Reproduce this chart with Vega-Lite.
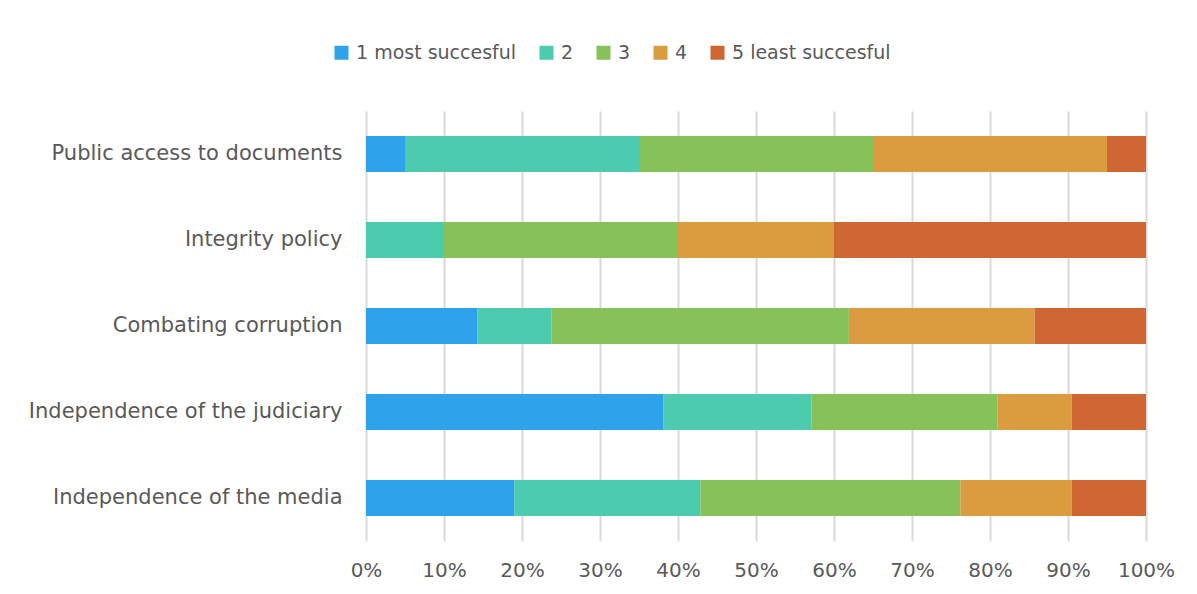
{
  "$schema": "https://vega.github.io/schema/vega-lite/v6.json",
  "width": 780,
  "height": 430,
  "autosize": {"type": "none"},
  "padding": {"left": 366, "top": 111, "right": 51, "bottom": 53},
  "background": "white",
  "config": {
    "font": "DejaVu Sans",
    "view": {"stroke": null},
    "axis": {"labelFont": "DejaVu Sans", "labelColor": "#595959", "labelFontSize": 20, "labelLimit": 400}
  },
  "data": {
    "values": [
      {"topic": "Public access to documents", "rating": "1 most succesful", "rank": 1, "count": 1},
      {"topic": "Public access to documents", "rating": "2", "rank": 2, "count": 6},
      {"topic": "Public access to documents", "rating": "3", "rank": 3, "count": 6},
      {"topic": "Public access to documents", "rating": "4", "rank": 4, "count": 6},
      {"topic": "Public access to documents", "rating": "5 least succesful", "rank": 5, "count": 1},
      {"topic": "Integrity policy", "rating": "1 most succesful", "rank": 1, "count": 0},
      {"topic": "Integrity policy", "rating": "2", "rank": 2, "count": 1},
      {"topic": "Integrity policy", "rating": "3", "rank": 3, "count": 3},
      {"topic": "Integrity policy", "rating": "4", "rank": 4, "count": 2},
      {"topic": "Integrity policy", "rating": "5 least succesful", "rank": 5, "count": 4},
      {"topic": "Combating corruption", "rating": "1 most succesful", "rank": 1, "count": 3},
      {"topic": "Combating corruption", "rating": "2", "rank": 2, "count": 2},
      {"topic": "Combating corruption", "rating": "3", "rank": 3, "count": 8},
      {"topic": "Combating corruption", "rating": "4", "rank": 4, "count": 5},
      {"topic": "Combating corruption", "rating": "5 least succesful", "rank": 5, "count": 3},
      {"topic": "Independence of the judiciary", "rating": "1 most succesful", "rank": 1, "count": 8},
      {"topic": "Independence of the judiciary", "rating": "2", "rank": 2, "count": 4},
      {"topic": "Independence of the judiciary", "rating": "3", "rank": 3, "count": 5},
      {"topic": "Independence of the judiciary", "rating": "4", "rank": 4, "count": 2},
      {"topic": "Independence of the judiciary", "rating": "5 least succesful", "rank": 5, "count": 2},
      {"topic": "Independence of the media", "rating": "1 most succesful", "rank": 1, "count": 4},
      {"topic": "Independence of the media", "rating": "2", "rank": 2, "count": 5},
      {"topic": "Independence of the media", "rating": "3", "rank": 3, "count": 7},
      {"topic": "Independence of the media", "rating": "4", "rank": 4, "count": 3},
      {"topic": "Independence of the media", "rating": "5 least succesful", "rank": 5, "count": 2}
    ]
  },
  "mark": {"type": "bar"},
  "encoding": {
    "y": {
      "field": "topic",
      "type": "nominal",
      "sort": ["Public access to documents", "Integrity policy", "Combating corruption", "Independence of the judiciary", "Independence of the media"],
      "scale": {"paddingInner": 0.58, "paddingOuter": 0.29},
      "axis": {"title": null, "domain": false, "ticks": false, "labelPadding": 24, "grid": false, "labelFontSize": 21}
    },
    "x": {
      "field": "count",
      "type": "quantitative",
      "stack": "normalize",
      "scale": {"domain": [0, 1], "nice": false},
      "axis": {
        "title": null,
        "format": ".0%",
        "values": [0, 0.1, 0.2, 0.3, 0.4, 0.5, 0.6, 0.7, 0.8, 0.9, 1],
        "domain": false,
        "ticks": false,
        "labelPadding": 19,
        "labelOverlap": false,
        "labelFlush": false,
        "labelBound": false,
        "grid": true,
        "gridColor": "#d9d9d9",
        "gridWidth": 2
      }
    },
    "color": {
      "field": "rating",
      "type": "nominal",
      "sort": ["1 most succesful", "2", "3", "4", "5 least succesful"],
      "scale": {
        "domain": ["1 most succesful", "2", "3", "4", "5 least succesful"],
        "range": ["#2ea3ec", "#4ccbaf", "#87c159", "#db9c3f", "#d06733"]
      },
      "legend": {
        "title": null,
        "orient": "none",
        "direction": "horizontal",
        "legendX": -34,
        "legendY": -68,
        "symbolType": "square",
        "symbolSize": 196,
        "symbolStrokeWidth": 0,
        "labelFontSize": 19,
        "labelLimit": 400,
        "labelColor": "#595959",
        "labelOffset": 5,
        "columnPadding": 20
      }
    },
    "order": {"field": "rank", "type": "quantitative"}
  }
}
